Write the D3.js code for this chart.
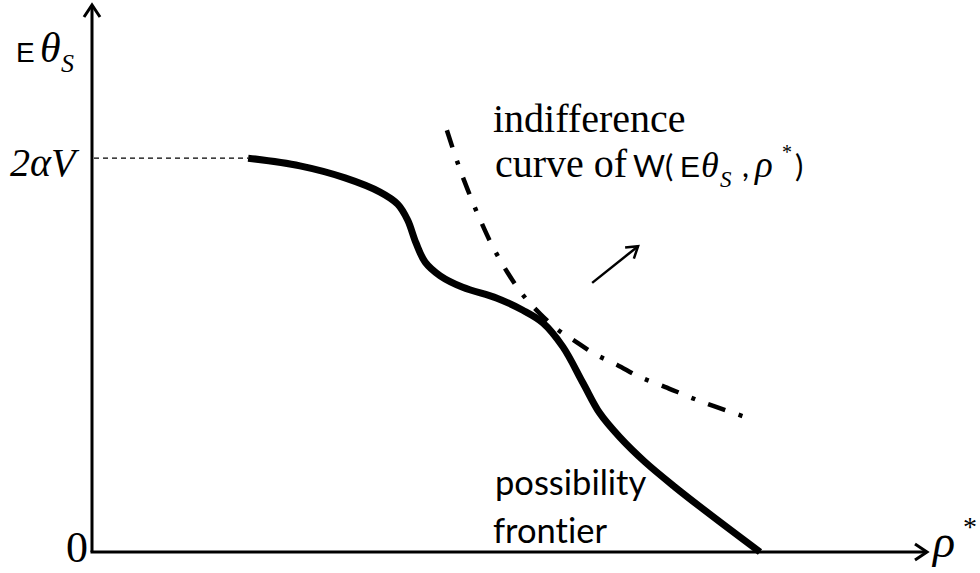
<!DOCTYPE html>
<html lang="en">
<head>
<meta charset="UTF-8">
<title>Possibility frontier and indifference curve</title>
<style>
  body { margin: 0; background: #fff; }
  svg { display: block; }
  text { font-variant-ligatures: none; }
</style>
</head>
<body>
<svg width="980" height="573"></svg>
<script src="https://cdn.jsdelivr.net/npm/d3@7"></script>
<script>
// both axes run 0..1 (rho* across, E theta_S up)
const frontierRho = [0.187, 0.249, 0.303, 0.345, 0.366, 0.378, 0.388, 0.399, 0.417, 0.444, 0.485,
  0.516, 0.540, 0.564, 0.588, 0.608, 0.632, 0.662, 0.698, 0.740, 0.800];
const frontierE = [0.720, 0.706, 0.684, 0.658, 0.636, 0.607, 0.565, 0.530, 0.505, 0.484, 0.464,
  0.442, 0.419, 0.375, 0.309, 0.254, 0.210, 0.165, 0.119, 0.069, 0.000];

const indiffRho = [0.425, 0.438, 0.450, 0.465, 0.480, 0.498, 0.516, 0.537, 0.558, 0.578, 0.602,
  0.629, 0.656, 0.686, 0.716, 0.744, 0.782];
const indiffE = [0.771, 0.711, 0.662, 0.607, 0.558, 0.510, 0.470, 0.435, 0.406, 0.386, 0.362,
  0.342, 0.320, 0.302, 0.283, 0.267, 0.247];

const maxE = 0.720;           // the 2aV level
const arrowRho = [0.599, 0.654];   // direction of higher welfare
const arrowE = [0.492, 0.559];

var svg = d3.select("svg");

var x = d3.scaleLinear().domain([0, 1]).range([92, 927]);
var y = d3.scaleLinear().domain([0, 1]).range([552, 5]);

// open arrow heads
var defs = svg.append("defs");
function head(id, len, half, w) {
  defs.append("marker")
    .attr("id", id)
    .attr("markerUnits", "userSpaceOnUse")
    .attr("viewBox", "-20 -15 25 30")
    .attr("markerWidth", 25)
    .attr("markerHeight", 30)
    .attr("refX", 0)
    .attr("refY", 0)
    .attr("orient", "auto")
    .append("path")
    .attr("d", "M" + -len + "," + -half + "L0,0L" + -len + "," + half)
    .attr("fill", "none")
    .attr("stroke", "#000")
    .attr("stroke-width", w);
}
head("axisHead", 12, 8, 3);
head("smallHead", 11, 7, 2.5);

// axes
svg.append("line")
  .attr("x1", x(0)).attr("y1", y(0))
  .attr("x2", x(0)).attr("y2", y(1))
  .attr("stroke", "#000").attr("stroke-width", 3)
  .attr("marker-end", "url(#axisHead)");
svg.append("line")
  .attr("x1", x(0) - 1.5).attr("y1", y(0))
  .attr("x2", x(1)).attr("y2", y(0))
  .attr("stroke", "#000").attr("stroke-width", 3)
  .attr("marker-end", "url(#axisHead)");

// dashed guide at 2aV
svg.append("line")
  .attr("x1", x(0) + 2).attr("y1", y(maxE))
  .attr("x2", x(frontierRho[0])).attr("y2", y(maxE))
  .attr("stroke", "#000").attr("stroke-width", 1.4)
  .attr("stroke-dasharray", "5,4");

var line = d3.line()
  .x(d => x(d[0]))
  .y(d => y(d[1]))
  .curve(d3.curveCatmullRom);

// possibility frontier
svg.append("path")
  .attr("d", line(d3.zip(frontierRho, frontierE)))
  .attr("fill", "none")
  .attr("stroke", "#000")
  .attr("stroke-width", 7);

// indifference curve
svg.append("path")
  .attr("d", line(d3.zip(indiffRho, indiffE)))
  .attr("fill", "none")
  .attr("stroke", "#000")
  .attr("stroke-width", 4.5)
  .attr("stroke-dasharray", "18,14,4,14");

// arrow
svg.append("line")
  .attr("x1", x(arrowRho[0])).attr("y1", y(arrowE[0]))
  .attr("x2", x(arrowRho[1])).attr("y2", y(arrowE[1]))
  .attr("stroke", "#000").attr("stroke-width", 2.5)
  .attr("marker-end", "url(#smallHead)");

// labels: one <text> per piece because of the mixed fonts
var fonts = {
  serif: ["Liberation Serif", "normal"],
  math: ["Liberation Serif", "italic"],
  sans: ["Lato", "normal"],
  plain: ["Liberation Sans", "normal"]
};
function label(parts) {
  parts.forEach(p => {
    svg.append("text")
      .attr("x", p[3])
      .attr("y", p[4])
      .attr("font-family", fonts[p[1]][0])
      .attr("font-style", fonts[p[1]][1])
      .attr("font-size", p[2])
      .text(p[0]);
  });
}

label([["E", "plain", 28, 16, 62], ["θ", "math", 42, 40, 62], ["S", "math", 26, 61, 72]]);
label([["2αV", "math", 40, 10, 176]]);
label([["0", "serif", 44, 66, 562]]);
label([["ρ", "math", 46, 933, 557], ["*", "serif", 28, 963, 536]]);

label([["indifference", "serif", 40, 493, 132]]);
label([["curve of", "serif", 40, 495, 177],
  ["W(", "sans", 31, 633, 177], ["E", "plain", 30, 680, 177],
  ["θ", "math", 36, 701, 177], ["S", "math", 23, 720, 187],
  [",", "sans", 31, 742, 177], ["ρ", "math", 37, 755, 177],
  ["*", "serif", 20, 782, 159], [")", "sans", 31, 795, 177]]);

label([["possibility", "sans", 34.5, 495, 495]]);
label([["frontier", "sans", 34.5, 493, 543]]);
</script>
</body>
</html>
